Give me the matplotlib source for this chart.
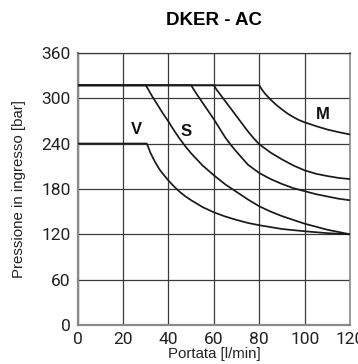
import matplotlib
matplotlib.use("Agg")
import matplotlib.pyplot as plt

# ---- data ----
title = "DKER - AC"
xlabel = "Portata [l/min]"
ylabel = "Pressione in ingresso [bar]"
xticks = [0, 20, 40, 60, 80, 100, 120]
yticks = [0, 60, 120, 180, 240, 300, 360]

v_q = [0, 30.4, 31, 32, 33, 34, 35, 36, 37.5, 40, 42.5, 45, 47.5, 50, 55, 60, 65, 70, 75, 80, 90, 100, 110, 120]
v_p = [240, 240, 236, 228, 222, 216, 211, 206, 200, 191, 183, 176, 170, 165, 156, 149, 143.5, 139, 135, 132, 127, 124, 121.5, 120]

c2_q = [0, 30, 31, 32.5, 35, 37.5, 40, 42.5, 45, 47.5, 50, 55, 60, 65, 70, 75, 80, 85, 90, 95, 100, 110, 120]
c2_p = [317, 317, 312, 304, 292, 280, 269, 257, 246, 236, 227, 211, 198, 186, 176, 166, 157, 150, 144, 139, 134, 126, 120]

c3_q = [0, 50, 51, 52.5, 55, 57.5, 60, 62.5, 65, 67.5, 70, 75, 80, 85, 90, 95, 100, 105, 110, 115, 120]
c3_p = [317, 317, 312, 305, 294, 283, 272, 260, 248, 238, 229, 212, 201, 193, 186.5, 181, 177, 173, 170, 167, 165]

c4_q = [0, 60, 61, 62.5, 65, 67.5, 70, 72.5, 75, 77.5, 80, 85, 90, 95, 100, 105, 110, 115, 120]
c4_p = [317, 317, 312, 306, 296, 286, 276, 266, 256, 247, 239, 228, 219, 211, 204.5, 200, 197, 194.5, 193]

m_q = [0, 80, 81, 82.5, 85, 87.5, 90, 92.5, 95, 97.5, 100, 105, 110, 115, 120]
m_p = [317, 317, 312, 306, 298, 291, 285, 279.5, 275, 271, 268, 263, 258.5, 255, 252]

labels = ["V", "S", "M"]
label_q = [25.8, 47.8, 108]
label_p = [258, 256, 279]

# ---- figure ----
fig = plt.figure(figsize=(3.58, 3.64), dpi=100)
ax = fig.add_axes([0.217, 0.107, 0.761, 0.748])

line_kw = dict(color="#1a1a1a", lw=1.25, solid_joinstyle="round",
               solid_capstyle="round", zorder=3)
for q, p in [(v_q, v_p), (c2_q, c2_p), (c3_q, c3_p), (c4_q, c4_p), (m_q, m_p)]:
    ax.plot(q, p, **line_kw)

ax.set_xlim(0, 120)
ax.set_ylim(0, 360)
ax.set_xticks(xticks)
ax.set_yticks(yticks)
ax.grid(True, color="#3a3a3a", lw=0.9)
ax.set_axisbelow(True)
ax.tick_params(length=0, pad=5)

for lab in ax.get_xticklabels() + ax.get_yticklabels():
    lab.set_fontfamily(["Roboto", "DejaVu Sans"])
    lab.set_fontweight("normal")
    lab.set_fontsize(12.5)
    lab.set_color("#222222")

for side in ["left", "bottom"]:
    ax.spines[side].set_color("#8a8a8a")
    ax.spines[side].set_linewidth(1.6)
ax.spines["top"].set_color("#3a3a3a")
ax.spines["top"].set_linewidth(0.9)
ax.spines["right"].set_color("#8a8a8a")
ax.spines["right"].set_linewidth(1.2)

ax.set_xlabel(xlabel, family=["Liberation Sans", "DejaVu Sans"], fontsize=10.8,
              color="#222222", labelpad=0)
ax.set_ylabel(ylabel, family=["Liberation Sans", "DejaVu Sans"], fontsize=10.8,
              color="#222222", labelpad=11)
fig.text(0.598, 0.945, title, ha="center", va="center", fontsize=13.5,
         fontweight="bold", family=["Liberation Sans", "DejaVu Sans"])

for t, q, p in zip(labels, label_q, label_p):
    ax.text(q, p, t, ha="center", va="center", fontsize=12, fontweight="bold",
            family=["Liberation Sans", "DejaVu Sans"], color="#111111", zorder=4)

fig.savefig("out.png", dpi=100)
